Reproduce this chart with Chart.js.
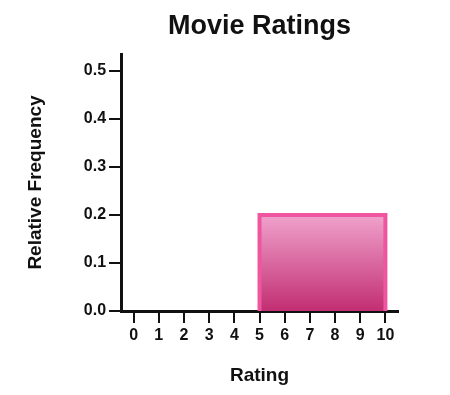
<!DOCTYPE html>
<html>
<head>
<meta charset="utf-8">
<script src="https://cdn.jsdelivr.net/npm/chart.js@4/dist/chart.umd.min.js"></script>
<style>
html,body{margin:0;padding:0;background:#fff;}
#wrap{width:450px;height:395px;}
</style>
</head>
<body>
<div id="wrap"><canvas id="c" width="450" height="395"></canvas></div>
<script>
// Data
const binStarts = [0, 1, 2, 3, 4, 5, 6, 7, 8, 9];
const binWidth = 1;
const relFreq = [0, 0, 0, 0, 0, 0.2, 0.2, 0.2, 0.2, 0.2];
const xTickValues = [0, 1, 2, 3, 4, 5, 6, 7, 8, 9, 10];
const yTickValues = [0, 0.1, 0.2, 0.3, 0.4, 0.5];
const chartTitle = 'Movie Ratings';
const xTitle = 'Rating';
const yTitle = 'Relative Frequency';

// Build the histogram outline from the bins
const outline = [];
let prev = 0;
binStarts.forEach((s, i) => {
  const f = relFreq[i];
  if (f === 0 && prev === 0) { prev = f; return; }
  outline.push({x: s, y: prev});
  outline.push({x: s, y: f});
  outline.push({x: s + binWidth, y: f});
  prev = f;
});
if (prev !== 0) outline.push({x: binStarts[binStarts.length - 1] + binWidth, y: 0});

const FONT = '"Liberation Sans", Arial, Helvetica, sans-serif';

const titlePlugin = {
  id: 'centerTitle',
  afterDraw(chart) {
    const ctx = chart.ctx, a = chart.chartArea;
    ctx.save();
    ctx.font = 'bold 27px ' + FONT;
    ctx.fillStyle = '#111';
    ctx.textAlign = 'center';
    ctx.textBaseline = 'middle';
    ctx.fillText(chartTitle, (a.left + a.right) / 2, 27);
    ctx.restore();
  }
};

const ctx = document.getElementById('c').getContext('2d');
new Chart(ctx, {
  type: 'line',
  data: {
    datasets: [{
      data: outline,
      borderColor: '#f0559f',
      borderWidth: 4,
      pointRadius: 0,
      tension: 0,
      fill: 'origin',
      backgroundColor: (c) => {
        const a = c.chart.chartArea;
        if (!a) return '#e070a8';
        const ys = c.chart.scales.y;
        const top = ys.getPixelForValue(0.2);
        const bot = ys.getPixelForValue(0);
        const g = c.chart.ctx.createLinearGradient(0, top, 0, bot);
        g.addColorStop(0, '#f0a2cd');
        g.addColorStop(1, '#c22e72');
        return g;
      }
    }]
  },
  options: {
    responsive: false,
    animation: false,
    layout: {padding: {top: 54, right: 52, left: 24, bottom: 8}},
    plugins: {legend: {display: false}, tooltip: {enabled: false}, title: {display: false}},
    scales: {
      x: {
        type: 'linear',
        min: -0.5, max: 10.5,
        afterBuildTicks: (s) => { s.ticks = xTickValues.map(v => ({value: v})); },
        grid: {drawOnChartArea: false, drawTicks: true, tickLength: 12, color: '#111', lineWidth: 2},
        border: {display: true, color: '#111', width: 3},
        ticks: {color: '#111', font: {family: FONT, size: 16, weight: 'bold'}, padding: 3, maxRotation: 0, autoSkip: false},
        title: {display: true, text: xTitle, color: '#111', font: {family: FONT, size: 19, weight: 'bold'}, padding: {top: 16, bottom: 0}}
      },
      y: {
        type: 'linear',
        min: 0, max: 0.535,
        afterBuildTicks: (s) => { s.ticks = yTickValues.map(v => ({value: v})); },
        grid: {drawOnChartArea: false, drawTicks: true, tickLength: 12, color: '#111', lineWidth: 2},
        border: {display: true, color: '#111', width: 3},
        ticks: {color: '#111', font: {family: FONT, size: 16, weight: 'bold'}, padding: 3, callback: (v) => Number(v).toFixed(1)},
        title: {display: true, text: yTitle, color: '#111', font: {family: FONT, size: 19, weight: 'bold'}, padding: {top: 0, bottom: 34}}
      }
    }
  },
  plugins: [titlePlugin]
});
</script>
</body>
</html>
